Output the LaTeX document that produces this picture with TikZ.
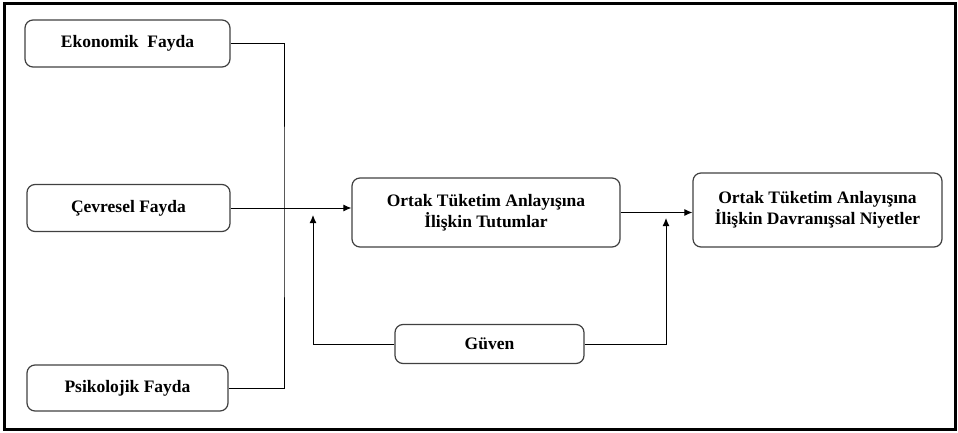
\documentclass[tikz,border=0pt]{standalone}
\usepackage{fontspec}
\setmainfont{Liberation Serif}
\usetikzlibrary{arrows.meta}

\begin{document}
\begin{tikzpicture}[x=1pt, y=-1pt,
	box/.style={draw=black!75, line width=1.2pt, rounded corners=8pt, align=center,
		font=\fontsize{17.5}{21}\selectfont\bfseries, inner sep=0pt},
	link/.style={line width=1pt},
	>={Latex[length=8pt,width=7pt]}]
	% frame
	\useasboundingbox (0, 0) rectangle (958, 433);
	\draw[line width=3pt] (4.5, 3.5) rectangle (955.5, 429.5);
	
	\node[box, minimum width=205pt, minimum height=47pt] (eko) at (127.5, 43.5) {Ekonomik\ \ Fayda};
	\node[box, minimum width=203pt, minimum height=47pt] (cev) at (128.5, 208) {Çevresel Fayda};
	\node[box, minimum width=201pt, minimum height=46pt] (psi) at (127.5, 388) {Psikolojik Fayda};
	\node[box, minimum width=268pt, minimum height=69pt] (tut) at (486, 212.5) {Ortak Tüketim Anlayışına\\İlişkin Tutumlar};
	\node[box, minimum width=249pt, minimum height=74pt] (niy) at (817.5, 210) {Ortak Tüketim Anlayışına\\İlişkin Davranışsal Niyetler};
	\node[box, minimum width=189pt, minimum height=39pt] (guv) at (489.5, 344) {Güven};
	
	\coordinate (bus) at (284, 208);
	\coordinate (g1) at (313, 215);
	\coordinate (g2) at (666, 218);
	
	\draw[link] (eko.east) -| (bus) |- (psi.east);
	\draw[link, ->] (cev.east) -- (cev.east -| tut.west);
	\draw[link, ->] (guv.west) -| (g1);
	\draw[link, ->] (guv.east) -| (g2);
	\draw[link, ->] (tut.east) -- (tut.east -| niy.west);
\end{tikzpicture}
\end{document}
